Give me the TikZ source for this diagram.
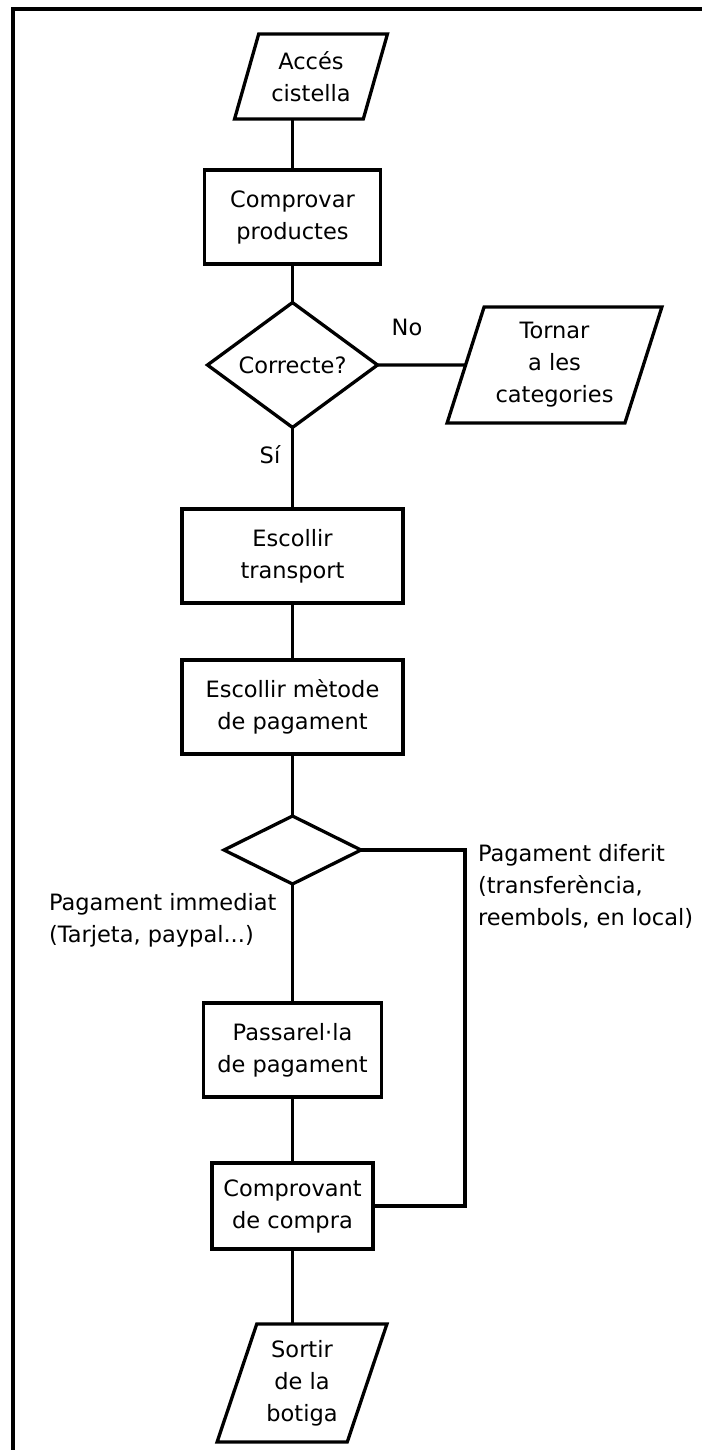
\documentclass[tikz,border=0pt]{standalone}
\usepackage{fontspec}
\setmainfont{DejaVu Sans}
\usetikzlibrary{shapes.geometric}

\begin{document}
\begin{tikzpicture}[x=1pt, y=-1pt, line width=3.3pt,
    every node/.style={font=\fontsize{22.5}{32}\selectfont, align=center, inner sep=0pt, outer sep=0pt},
    stepbox/.style={draw, rectangle, minimum height=94pt},
    iobox/.style={draw, trapezium, trapezium left angle=70, trapezium right angle=110, trapezium stretches=true},
    askbox/.style={draw, diamond}]
    \useasboundingbox (0,0) rectangle (702,1450);
    \draw[line width=4pt] (13,1450) -- (13,9) -- (702,9);
    \node[iobox, minimum width=153pt, minimum height=85pt] (acces) at (311,76.5) {Accés\\cistella};
    \node[stepbox, minimum width=176pt] (comprovar) at (292.5,217) {Comprovar\\productes};
    \node[askbox, minimum width=170pt, minimum height=104pt] (correcte) at (292.5,365) {Correcte?};
    \node[iobox, minimum width=215pt, minimum height=116pt] (tornar) at (554.5,365) {Tornar\\a les\\categories};
    \node[stepbox, minimum width=221pt] (transport) at (292.5,556) {Escollir\\transport};
    \node[stepbox, minimum width=221pt] (metode) at (292.5,707) {Escollir mètode\\de pagament};
    \node[askbox, minimum width=137pt, minimum height=68pt] (pagament) at (292.5,850) {};
    \node[stepbox, minimum width=178pt] (passarela) at (292.5,1050) {Passarel·la\\de pagament};
    \node[stepbox, minimum width=161pt, minimum height=86pt] (comprovant) at (292.5,1206) {Comprovant\\de compra};
    \node[iobox, minimum width=170pt, minimum height=118pt] (sortir) at (302,1383) {Sortir\\de la\\botiga};
    \coordinate (gir) at (465,850);
    \node (no) at (407,327) {No};
    \node (si) at (270,455) {Sí};
    \node[anchor=west, align=left] (immediat) at (49,920) {Pagament immediat\\(Tarjeta, paypal...)};
    \node[anchor=west, align=left] (diferit) at (478,886) {Pagament diferit\\(transferència,\\reembols, en local)};
    \draw (acces.south -| comprovar.north) -- (comprovar.north);
    \draw (comprovar) -- (correcte);
    \draw (correcte.east) -- (tornar.west);
    \draw (correcte) -- (transport);
    \draw (transport) -- (metode);
    \draw (metode) -- (pagament);
    \draw (pagament) -- (passarela);
    \draw (passarela) -- (comprovant);
    \draw (comprovant.south) -- (sortir.north -| comprovant.south);
    \draw (pagament.east) -- (gir) |- (comprovant.east);
\end{tikzpicture}
\end{document}
